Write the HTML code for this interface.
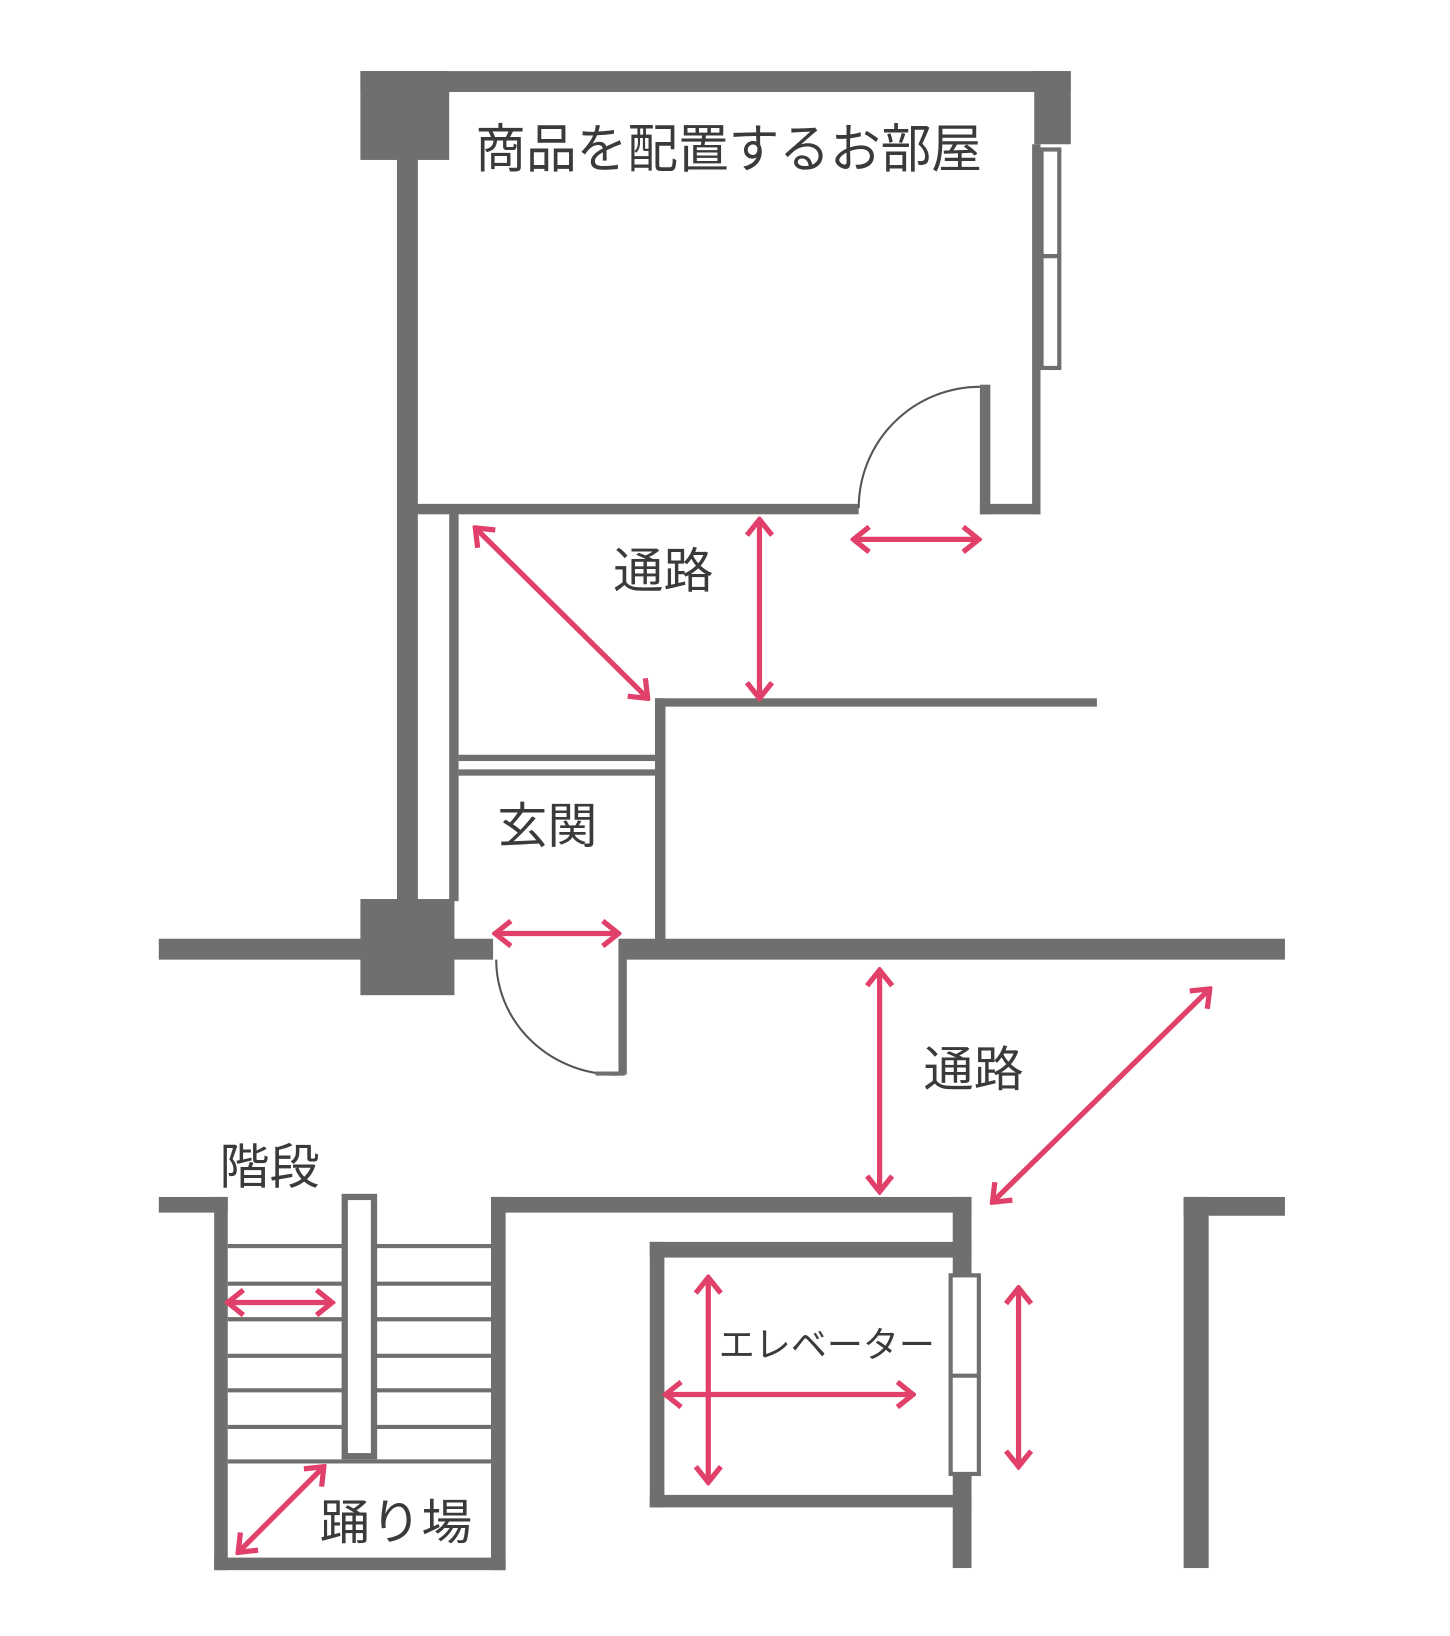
<!DOCTYPE html>
<html><head><meta charset="utf-8"><style>
html,body{margin:0;padding:0;background:#fff;}
svg{display:block;}
text{font-family:"Liberation Sans","Noto Sans CJK JP",sans-serif;fill:#3a3a3a;}
</style></head><body>
<svg width="1450" height="1636" viewBox="0 0 1388 1565" preserveAspectRatio="none" xmlns="http://www.w3.org/2000/svg">
<defs>
<marker id="a" viewBox="0 0 24 28" refX="21" refY="14" markerWidth="24" markerHeight="28" markerUnits="userSpaceOnUse" orient="auto-start-reverse">
<path d="M6,2 L21,14 L6,26" fill="none" stroke="#e0406a" stroke-width="5"/>
</marker>
</defs>
<g fill="#6f706e">
<rect x="345" y="68" width="680" height="20"/>
<rect x="345" y="68" width="85" height="85"/>
<rect x="990" y="68" width="35" height="70"/>
<rect x="380" y="88" width="20" height="780"/>
<rect x="988" y="138" width="8" height="354"/>
<rect x="390" y="482" width="432" height="10"/>
<rect x="938" y="368" width="10" height="124"/>
<rect x="938" y="482" width="58" height="10"/>
<rect x="430" y="490" width="9" height="372"/>
<rect x="627" y="668" width="423" height="8"/>
<rect x="627" y="668" width="10" height="232"/>
<rect x="439" y="722" width="188" height="6"/>
<rect x="439" y="736" width="188" height="6"/>
<rect x="345" y="860" width="90" height="92"/>
<rect x="152" y="898" width="320" height="20"/>
<rect x="598" y="898" width="632" height="20"/>
<rect x="592" y="898" width="8" height="130"/>
<rect x="152" y="1145" width="66" height="15"/>
<rect x="205" y="1145" width="13" height="357"/>
<rect x="205" y="1490" width="279" height="12"/>
<rect x="470" y="1145" width="14" height="357"/>
<rect x="470" y="1145" width="460" height="15"/>
<rect x="912" y="1145" width="18" height="355"/>
<rect x="622" y="1188" width="308" height="15"/>
<rect x="622" y="1188" width="14" height="254"/>
<rect x="622" y="1430" width="308" height="12"/>
<rect x="1133" y="1145" width="24" height="355"/>
<rect x="1133" y="1145" width="97" height="18"/>
</g>
<rect x="997" y="143" width="17" height="209" fill="#fff" stroke="#6f706e" stroke-width="4"/>
<line x1="997" y1="245" x2="1014" y2="245" stroke="#6f706e" stroke-width="4"/>
<path d="M822,486 A116,116 0 0 1 938,370" fill="none" stroke="#555" stroke-width="2"/>
<path d="M475,918 A115,110 0 0 0 592,1028" fill="none" stroke="#555" stroke-width="2"/>
<line x1="570" y1="1027" x2="598" y2="1027" stroke="#6f706e" stroke-width="4"/>
<g stroke="#6f706e" stroke-width="4">
<line x1="218" y1="1192" x2="470" y2="1192"/>
<line x1="218" y1="1228" x2="470" y2="1228"/>
<line x1="218" y1="1262" x2="470" y2="1262"/>
<line x1="218" y1="1297" x2="470" y2="1297"/>
<line x1="218" y1="1330" x2="470" y2="1330"/>
<line x1="218" y1="1365" x2="470" y2="1365"/>
<line x1="218" y1="1398" x2="470" y2="1398"/>
</g>
<rect x="330" y="1145" width="28" height="248" fill="#fff" stroke="#6f706e" stroke-width="6"/>
<rect x="910" y="1220" width="27" height="190" fill="#fff" stroke="#6f706e" stroke-width="4"/>
<line x1="910" y1="1316" x2="937" y2="1316" stroke="#6f706e" stroke-width="4"/>
<g stroke="#e0406a" stroke-width="5" fill="none" marker-start="url(#a)" marker-end="url(#a)">
<line x1="455" y1="505" x2="620" y2="668"/>
<line x1="727" y1="497" x2="727" y2="668"/>
<line x1="817" y1="516" x2="937" y2="516"/>
<line x1="474" y1="893" x2="592" y2="893"/>
<line x1="842" y1="928" x2="842" y2="1140"/>
<line x1="1158" y1="946" x2="950" y2="1150"/>
<line x1="218" y1="1246" x2="318" y2="1246"/>
<line x1="310" y1="1403" x2="228" y2="1485"/>
<line x1="678" y1="1222" x2="678" y2="1418"/>
<line x1="637" y1="1334" x2="874" y2="1334"/>
<line x1="975" y1="1232" x2="975" y2="1403"/>
</g>
<text x="455" y="160" font-size="50" textLength="485" lengthAdjust="spacingAndGlyphs">商品を配置するお部屋</text>
<text x="587" y="562" font-size="46" textLength="96" lengthAdjust="spacingAndGlyphs">通路</text>
<text x="476" y="806" font-size="46" textLength="96" lengthAdjust="spacingAndGlyphs">玄関</text>
<text x="884" y="1039" font-size="46" textLength="96" lengthAdjust="spacingAndGlyphs">通路</text>
<text x="210" y="1132" font-size="46" textLength="96" lengthAdjust="spacingAndGlyphs">階段</text>
<text x="688" y="1298" font-size="34" textLength="207" lengthAdjust="spacingAndGlyphs">エレベーター</text>
<text x="306" y="1472" font-size="46" textLength="146" lengthAdjust="spacingAndGlyphs">踊り場</text>
</svg>
</body></html>
